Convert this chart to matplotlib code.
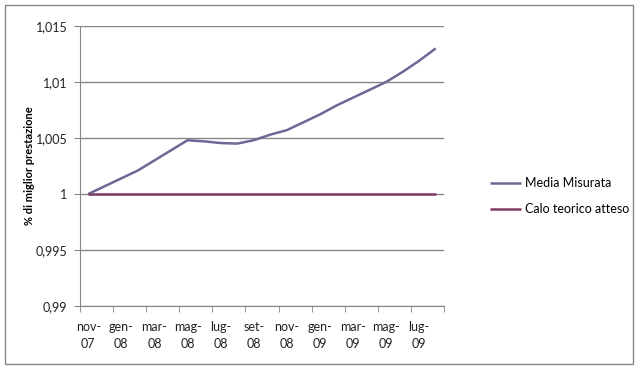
import numpy as np
import matplotlib.pyplot as plt
from matplotlib.patches import Rectangle

plt.rcParams['font.family'] = ['Lato', 'DejaVu Sans']

# monthly data, nov-07 .. ago-09
mesi = ['nov-\n07', 'gen-\n08', 'mar-\n08', 'mag-\n08', 'lug-\n08', 'set-\n08',
        'nov-\n08', 'gen-\n09', 'mar-\n09', 'mag-\n09', 'lug-\n09']
media = [1.0, 1.0007, 1.0014, 1.0021, 1.0030, 1.0039, 1.0048, 1.0047, 1.00455,
         1.0045, 1.0048, 1.0053, 1.0057, 1.0064, 1.0071, 1.0079, 1.0086, 1.0093,
         1.0100, 1.0109, 1.0119, 1.0130]
calo = [1.0] * 22

x = np.arange(len(media))
grigio = '#868686'
fs = 9

fig = plt.figure(figsize=(6.4, 3.69), dpi=100)
ax = fig.add_axes([80/640, 1-306/369, 364/640, 280/369])

ax.plot(x, media, color='#6b6a96', lw=1.8, label='Media Misurata', solid_capstyle='butt')
ax.plot(x, calo, color='#7f3b67', lw=1.8, label='Calo teorico atteso', solid_capstyle='butt')

ax.set_xlim(-0.5, 21.5)
ax.set_ylim(0.99, 1.015)
ax.set_yticks(np.arange(0.99, 1.0151, 0.005))
ax.set_yticklabels(['0,99', '0,995', '1', '1,005', '1,01', '1,015'])
ax.set_xticks(np.arange(0, 21, 2))
ax.set_xticklabels(mesi)
ax.set_xticks(np.arange(-0.5, 22, 2), minor=True)
ax.tick_params(axis='x', which='major', length=0, pad=11, labelsize=fs, labelcolor='#222222')
ax.tick_params(axis='x', which='minor', length=4, color=grigio, direction='out')
ax.tick_params(axis='y', length=4, color=grigio, labelsize=fs, labelcolor='#222222', pad=5)
for lab in ax.get_xticklabels():
    lab.set_linespacing(1.45)

ax.grid(axis='y', color=grigio, lw=1)
ax.set_axisbelow(True)
for s in ['top', 'right']:
    ax.spines[s].set_visible(False)
for s in ['left', 'bottom']:
    ax.spines[s].set_color(grigio)

ax.set_ylabel('% di miglior prestazione', fontsize=8, fontweight='bold', labelpad=0.5)

ax.legend(loc='upper left', bbox_to_anchor=(1.095, 0.50), frameon=False, fontsize=fs,
          handlelength=2.5, handletextpad=0.3, labelspacing=1.1)

fig.patches.append(Rectangle((5/640, 1-364/369), 628/640, 359/369, transform=fig.transFigure,
                             fill=False, edgecolor=grigio, lw=1))

fig.savefig('out.png', dpi=100)
